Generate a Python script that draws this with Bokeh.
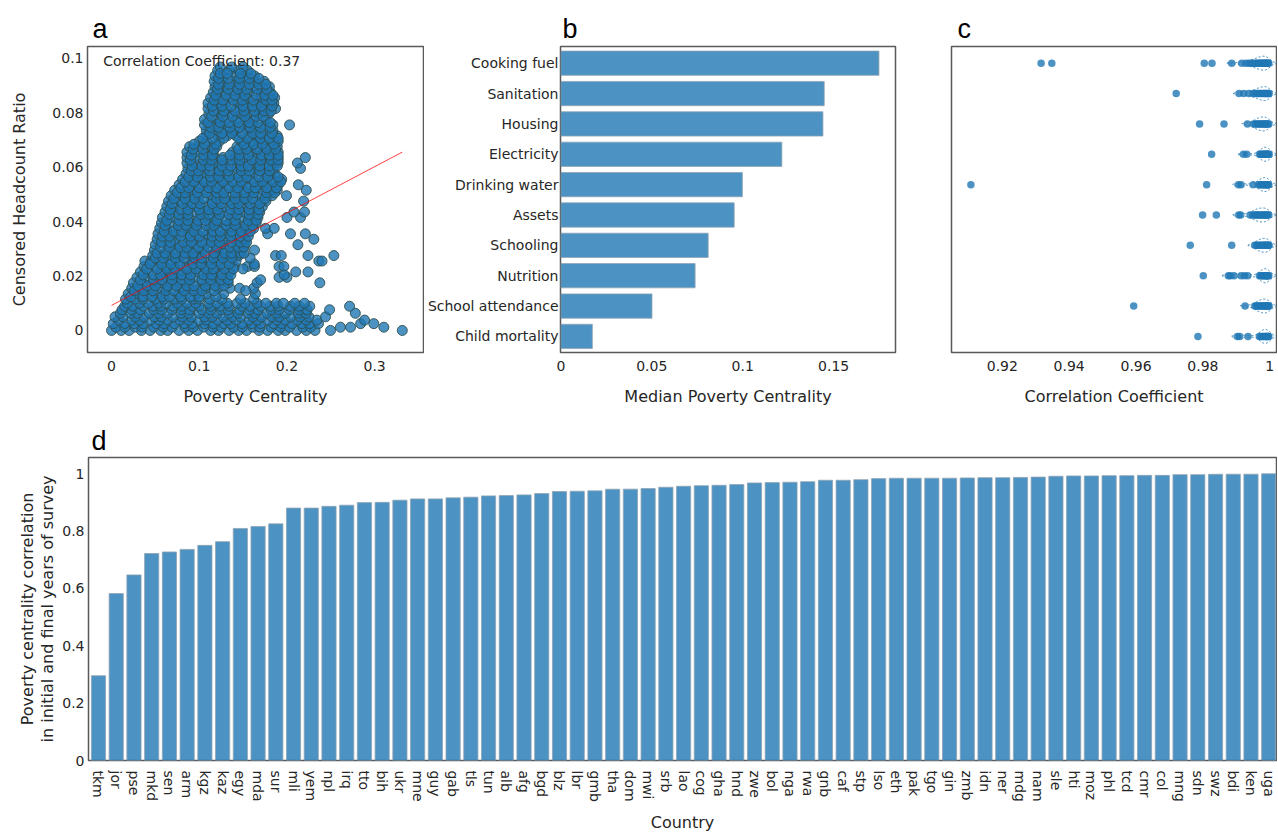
import math
import numpy as np
from bokeh.plotting import figure
from bokeh.layouts import row, column
from bokeh.models import Range1d, FixedTicker, CustomJSTickFormatter, Label
from bokeh.embed import file_html
from bokeh.resources import INLINE

# ---------------- data: panel a (poverty centrality vs censored headcount ratio)
# each entry: (censored headcount ratio, [poverty centrality of the points at that ratio])
scatter_rows = [
    (0.0000, [0.000, 0.011, 0.020, 0.034, 0.044, 0.056, 0.064, 0.077, 0.088, 0.098, 0.113, 0.122, 0.134, 0.145, 0.154,
              0.168, 0.178, 0.190, 0.198, 0.211, 0.222, 0.232, 0.2497, 0.3315]),
    (0.0012, [0.005, 0.015, 0.027, 0.035, 0.048, 0.059, 0.069, 0.084, 0.093, 0.105, 0.116, 0.125, 0.139, 0.149, 0.161,
              0.169, 0.182, 0.193, 0.203, 0.218, 0.227, 0.261, 0.2725, 0.3105]),
    (0.0025, [0.002, 0.015, 0.026, 0.036, 0.051, 0.060, 0.072, 0.083, 0.092, 0.106, 0.116, 0.128, 0.136, 0.149, 0.160,
              0.170, 0.185, 0.194, 0.206, 0.217, 0.226, 0.236, 0.284, 0.299]),
    (0.0038, [0.008, 0.023, 0.032, 0.044, 0.055, 0.064, 0.078, 0.088, 0.100, 0.108, 0.121, 0.132, 0.142, 0.157, 0.166,
              0.178, 0.189, 0.198, 0.212, 0.222, 0.234, 0.2885]),
    (0.0050, [0.004, 0.013, 0.027, 0.037, 0.049, 0.057, 0.070, 0.081, 0.091, 0.106, 0.115, 0.127, 0.138, 0.147, 0.161,
              0.171, 0.183, 0.191, 0.204, 0.215, 0.225, 0.244]),
    (0.0063, [0.010, 0.022, 0.030, 0.043, 0.054, 0.064, 0.079, 0.088, 0.100, 0.111, 0.120, 0.134, 0.144, 0.156, 0.164,
              0.177, 0.188, 0.198, 0.213, 0.222, 0.278]),
    (0.0076, [0.012, 0.023, 0.033, 0.048, 0.057, 0.069, 0.080, 0.089, 0.103, 0.113, 0.125, 0.133, 0.146, 0.157, 0.167,
              0.182, 0.191, 0.203, 0.214, 0.223, 0.2486]),
    (0.0089, [0.015, 0.024, 0.036, 0.047, 0.056, 0.070, 0.080, 0.092, 0.100, 0.113, 0.124, 0.134, 0.149, 0.158, 0.170,
              0.181, 0.190, 0.204, 0.214, 0.226, 0.2714]),
    (0.0100, [0.018, 0.032, 0.042, 0.054, 0.062, 0.075, 0.086, 0.096, 0.111, 0.120, 0.132, 0.143, 0.152, 0.166, 0.176,
              0.188, 0.196, 0.209, 0.220]),
    (0.0115, [0.016, 0.027, 0.036, 0.050, 0.060, 0.072, 0.080, 0.093, 0.100, 0.112, 0.126, 0.147, 0.162]),
    (0.0135, [0.019, 0.027, 0.040, 0.051, 0.061, 0.076, 0.085, 0.097, 0.108, 0.128, 0.164]),
    (0.0155, [0.023, 0.032, 0.044, 0.055, 0.064, 0.078, 0.088, 0.100, 0.108, 0.121, 0.135, 0.146, 0.162]),
    (0.0175, [0.025, 0.035, 0.047, 0.055, 0.068, 0.079, 0.089, 0.104, 0.113, 0.125, 0.133, 0.166, 0.2375]),
    (0.0195, [0.029, 0.039, 0.054, 0.063, 0.075, 0.086, 0.095, 0.109, 0.119, 0.131, 0.191, 0.200]),
    (0.0215, [0.033, 0.042, 0.056, 0.066, 0.078, 0.086, 0.099, 0.110, 0.120, 0.135, 0.210, 0.224]),
    (0.0235, [0.037, 0.050, 0.061, 0.071, 0.086, 0.095, 0.107, 0.118, 0.127, 0.140, 0.155, 0.163, 0.191, 0.1965]),
    (0.0255, [0.038, 0.045, 0.057, 0.068, 0.077, 0.091, 0.101, 0.113, 0.121, 0.134, 0.142, 0.2364, 0.240]),
    (0.0275, [0.047, 0.059, 0.067, 0.080, 0.091, 0.101, 0.116, 0.125, 0.137, 0.145, 0.187, 0.1935, 0.224, 0.2535]),
    (0.0295, [0.049, 0.064, 0.073, 0.085, 0.096, 0.105, 0.119, 0.129, 0.141, 0.149, 0.163]),
    (0.0315, [0.050, 0.064, 0.074, 0.086, 0.094, 0.107, 0.118, 0.128, 0.143, 0.152, 0.2125]),
    (0.0335, [0.052, 0.063, 0.073, 0.088, 0.097, 0.109, 0.120, 0.129, 0.143, 0.153, 0.2307]),
    (0.0355, [0.053, 0.064, 0.073, 0.087, 0.097, 0.109, 0.117, 0.130, 0.141, 0.151, 0.178, 0.204, 0.221]),
    (0.0375, [0.055, 0.063, 0.076, 0.087, 0.097, 0.112, 0.121, 0.133, 0.144, 0.153, 0.162, 0.1756, 0.1855]),
    (0.0395, [0.057, 0.066, 0.078, 0.089, 0.098, 0.112, 0.122, 0.134, 0.142, 0.155, 0.165]),
    (0.0415, [0.058, 0.068, 0.080, 0.088, 0.101, 0.112, 0.122, 0.137, 0.146, 0.158, 0.167, 0.200, 0.2155]),
    (0.0435, [0.061, 0.071, 0.086, 0.095, 0.107, 0.118, 0.127, 0.141, 0.151, 0.163, 0.169, 0.208, 0.220]),
    (0.0455, [0.063, 0.072, 0.086, 0.096, 0.108, 0.116, 0.129, 0.140, 0.150, 0.165, 0.172]),
    (0.0475, [0.065, 0.078, 0.089, 0.099, 0.114, 0.123, 0.135, 0.146, 0.155, 0.169, 0.176, 0.219]),
    (0.0495, [0.068, 0.080, 0.091, 0.100, 0.114, 0.124, 0.136, 0.144, 0.157, 0.168, 0.178, 0.183, 0.1995]),
    (0.0515, [0.072, 0.084, 0.092, 0.105, 0.116, 0.126, 0.141, 0.150, 0.162, 0.173, 0.182, 0.189, 0.222]),
    (0.0535, [0.077, 0.092, 0.101, 0.113, 0.124, 0.133, 0.147, 0.157, 0.169, 0.177, 0.190, 0.213]),
    (0.0555, [0.081, 0.095, 0.105, 0.117, 0.125, 0.138, 0.149, 0.159, 0.174, 0.183, 0.194]),
    (0.0575, [0.085, 0.096, 0.106, 0.121, 0.130, 0.142, 0.153, 0.162, 0.176, 0.186]),
    (0.0595, [0.087, 0.098, 0.107, 0.121, 0.131, 0.143, 0.151, 0.164, 0.175, 0.185, 0.2155]),
    (0.0615, [0.086, 0.094, 0.107, 0.118, 0.128, 0.143, 0.152, 0.164, 0.175, 0.184, 0.190, 0.212]),
    (0.0635, [0.086, 0.095, 0.107, 0.118, 0.127, 0.141, 0.151, 0.163, 0.171, 0.184, 0.190, 0.221]),
    (0.0655, [0.086, 0.096, 0.108, 0.116, 0.138, 0.149, 0.159, 0.174, 0.183, 0.190]),
    (0.0675, [0.089, 0.099, 0.114, 0.120, 0.143, 0.155, 0.166, 0.175, 0.189]),
    (0.0695, [0.100, 0.109, 0.123, 0.148, 0.160, 0.168, 0.181, 0.190]),
    (0.0715, [0.108, 0.121, 0.132, 0.142, 0.157, 0.166, 0.178, 0.189]),
    (0.0735, [0.108, 0.120, 0.131, 0.140, 0.154, 0.164, 0.176, 0.184]),
    (0.0755, [0.106, 0.118, 0.126, 0.139, 0.150, 0.160, 0.175, 0.184, 0.203]),
    (0.0775, [0.106, 0.121, 0.130, 0.142, 0.153, 0.162, 0.176]),
    (0.0795, [0.111, 0.125, 0.135, 0.147, 0.155, 0.168, 0.179]),
    (0.0815, [0.110, 0.121, 0.131, 0.146, 0.155, 0.167, 0.178, 0.187]),
    (0.0835, [0.110, 0.121, 0.130, 0.144, 0.154, 0.166, 0.174, 0.185]),
    (0.0855, [0.113, 0.121, 0.134, 0.145, 0.155, 0.170, 0.179, 0.186]),
    (0.0875, [0.116, 0.125, 0.137, 0.148, 0.157, 0.171, 0.181]),
    (0.0895, [0.118, 0.128, 0.140, 0.148, 0.161, 0.172, 0.180]),
    (0.0915, [0.117, 0.127, 0.142, 0.151, 0.163, 0.174]),
    (0.0935, [0.118, 0.127, 0.141, 0.151, 0.163]),
    (0.0955, [0.121, 0.134, 0.145, 0.155]),
    (0.0968, [0.124, 0.137, 0.150]),
]
# points lying between the rows above
scatter_rows_between = [
    (0.0124, [0.022, 0.036, 0.046, 0.058, 0.066, 0.079, 0.090, 0.100, 0.119]),
    (0.0146, [0.026, 0.037, 0.047, 0.062, 0.071, 0.083, 0.094, 0.103, 0.117, 0.153]),
    (0.0164, [0.030, 0.041, 0.050, 0.064, 0.074, 0.086, 0.094, 0.107, 0.118, 0.128]),
    (0.0186, [0.033, 0.048, 0.057, 0.069, 0.080, 0.089, 0.103, 0.113, 0.125, 0.133, 0.170]),
    (0.0204, [0.036, 0.048, 0.056, 0.069, 0.080, 0.090, 0.105, 0.114, 0.126, 0.136, 0.197]),
    (0.0226, [0.040, 0.052, 0.063, 0.072, 0.086, 0.096, 0.108, 0.116, 0.129, 0.139, 0.150]),
    (0.0244, [0.044, 0.057, 0.068, 0.078, 0.093, 0.102, 0.114, 0.125, 0.134, 0.1627]),
    (0.0266, [0.050, 0.059, 0.073, 0.083, 0.095, 0.103, 0.116, 0.127, 0.137, 0.158]),
    (0.0284, [0.052, 0.061, 0.073, 0.084, 0.093, 0.107, 0.117, 0.129, 0.137, 0.147, 0.151]),
    (0.0306, [0.056, 0.066, 0.078, 0.086, 0.099, 0.110, 0.120, 0.135, 0.144, 0.151]),
    (0.0324, [0.057, 0.067, 0.082, 0.091, 0.103, 0.114, 0.123, 0.137, 0.147, 0.154]),
    (0.0346, [0.058, 0.066, 0.079, 0.090, 0.100, 0.115, 0.124, 0.136, 0.147, 0.156]),
    (0.0364, [0.060, 0.071, 0.080, 0.094, 0.104, 0.116, 0.124, 0.137, 0.148, 0.158]),
    (0.0386, [0.061, 0.076, 0.085, 0.097, 0.108, 0.117, 0.131, 0.141, 0.153, 0.161]),
    (0.0404, [0.063, 0.077, 0.087, 0.099, 0.107, 0.120, 0.131, 0.141, 0.156, 0.165]),
    (0.0426, [0.066, 0.077, 0.087, 0.102, 0.111, 0.123, 0.134, 0.143, 0.157, 0.167]),
    (0.0444, [0.067, 0.079, 0.087, 0.100, 0.111, 0.121, 0.136, 0.145, 0.157, 0.168]),
    (0.0466, [0.069, 0.081, 0.092, 0.101, 0.115, 0.125, 0.137, 0.145, 0.158, 0.169]),
    (0.0484, [0.071, 0.084, 0.095, 0.105, 0.120, 0.129, 0.141, 0.152, 0.161, 0.175]),
    (0.0506, [0.075, 0.084, 0.098, 0.108, 0.120, 0.128, 0.141, 0.152, 0.162, 0.177, 0.186]),
    (0.0524, [0.079, 0.088, 0.100, 0.111, 0.120, 0.134, 0.144, 0.156, 0.164, 0.177, 0.188]),
    (0.0546, [0.084, 0.094, 0.106, 0.114, 0.127, 0.138, 0.148, 0.163, 0.172, 0.184, 0.193]),
    (0.0564, [0.088, 0.098, 0.113, 0.122, 0.134, 0.145, 0.154, 0.168, 0.178, 0.190]),
    (0.0586, [0.091, 0.099, 0.112, 0.123, 0.133, 0.148, 0.157, 0.169, 0.180]),
    (0.0604, [0.092, 0.103, 0.112, 0.126, 0.136, 0.148, 0.156, 0.169, 0.180, 0.189]),
    (0.0626, [0.090, 0.105, 0.114, 0.126, 0.137, 0.146, 0.160, 0.170, 0.182, 0.190]),
    (0.0644, [0.091, 0.105, 0.115, 0.135, 0.146, 0.156, 0.171, 0.180, 0.190]),
    (0.0666, [0.093, 0.104, 0.117, 0.145, 0.154, 0.166, 0.177, 0.187]),
    (0.0684, [0.094, 0.106, 0.119, 0.151, 0.162, 0.172, 0.185]),
    (0.0706, [0.104, 0.115, 0.128, 0.145, 0.155, 0.170, 0.180, 0.190]),
    (0.0724, [0.112, 0.126, 0.137, 0.149, 0.161, 0.170, 0.183]),
    (0.0746, [0.113, 0.122, 0.135, 0.146, 0.158, 0.170, 0.181]),
    (0.0764, [0.110, 0.124, 0.134, 0.145, 0.157, 0.167, 0.181]),
    (0.0786, [0.114, 0.127, 0.138, 0.152, 0.165, 0.173]),
    (0.0806, [0.116, 0.128, 0.141, 0.151, 0.163, 0.174, 0.182]),
    (0.0824, [0.115, 0.126, 0.136, 0.150, 0.161, 0.171, 0.183]),
    (0.0846, [0.117, 0.127, 0.139, 0.149, 0.162, 0.176, 0.183]),
    (0.0864, [0.119, 0.131, 0.141, 0.152, 0.165, 0.175, 0.184]),
    (0.0886, [0.121, 0.133, 0.144, 0.154, 0.166, 0.177]),
    (0.0904, [0.122, 0.134, 0.146, 0.157, 0.168, 0.176]),
    (0.0926, [0.122, 0.133, 0.146, 0.157, 0.168]),
    (0.0944, [0.124, 0.132, 0.147, 0.159]),
]
fit_x = [0.0, 0.3315]
fit_y = [0.0092, 0.0655]
corr_text = "Correlation Coefficient: 0.37"
a_xticks = [0, 0.1, 0.2, 0.3]
a_yticks = [0, 0.02, 0.04, 0.06, 0.08, 0.1]

# ---------------- data: panel b
dimensions = ["Cooking fuel", "Sanitation", "Housing", "Electricity", "Drinking water",
              "Assets", "Schooling", "Nutrition", "School attendance", "Child mortality"]
median_centrality = [0.1749, 0.1448, 0.1441, 0.1215, 0.0998, 0.0953, 0.0810, 0.0738, 0.0501, 0.0173]
b_xticks = [0, 0.05, 0.1, 0.15]

# ---------------- data: panel c (correlation coefficients per dimension)
corr_cooking_fuel = [0.9316, 0.9348, 0.9804, 0.9827, 0.9886, 0.9916, 0.9928, 0.9937, 0.9944, 0.9950, 0.9956, 0.9960,
                     0.9964, 0.9968, 0.9971, 0.9974, 0.9977, 0.9980, 0.9983, 0.9986, 0.9989, 0.9991, 0.9993, 0.9995, 0.9997]
corr_sanitation = [0.9720, 0.9908, 0.9922, 0.9937, 0.9950, 0.9956, 0.9961, 0.9966, 0.9970, 0.9974, 0.9978, 0.9982,
                   0.9985, 0.9988, 0.9991, 0.9994, 0.9996, 0.9998]
corr_housing = [0.9790, 0.9863, 0.9933, 0.9952, 0.9957, 0.9962, 0.9966, 0.9970, 0.9974, 0.9978, 0.9982, 0.9985,
                0.9988, 0.9991, 0.9994, 0.9997]
corr_electricity = [0.9826, 0.9921, 0.9931, 0.9969, 0.9973, 0.9977, 0.9980, 0.9983, 0.9986, 0.9988, 0.9990, 0.9992,
                    0.9994, 0.9996, 0.9998]
corr_drinking_water = [0.9106, 0.9811, 0.9906, 0.9914, 0.9950, 0.9966, 0.9970, 0.9974, 0.9977, 0.9980, 0.9983,
                       0.9986, 0.9989, 0.9991, 0.9993, 0.9995, 0.9997]
corr_assets = [0.9799, 0.9840, 0.9907, 0.9913, 0.9941, 0.9949, 0.9954, 0.9958, 0.9962, 0.9966, 0.9970, 0.9974,
               0.9978, 0.9982, 0.9985, 0.9988, 0.9991, 0.9994, 0.9997]
corr_schooling = [0.9762, 0.9886, 0.9955, 0.9960, 0.9964, 0.9968, 0.9972, 0.9976, 0.9980, 0.9983, 0.9986, 0.9989,
                  0.9992, 0.9994, 0.9996, 0.9998]
corr_nutrition = [0.9801, 0.9876, 0.9882, 0.9893, 0.9914, 0.9924, 0.9934, 0.9969, 0.9973, 0.9977, 0.9980, 0.9983,
                  0.9986, 0.9989, 0.9991, 0.9993, 0.9995, 0.9997]
corr_school_attendance = [0.9593, 0.9926, 0.9955, 0.9959, 0.9963, 0.9967, 0.9971, 0.9975, 0.9978, 0.9981, 0.9984,
                          0.9987, 0.9990, 0.9992, 0.9994, 0.9996, 0.9998]
corr_child_mortality = [0.9785, 0.9903, 0.9910, 0.9935, 0.9969, 0.9973, 0.9977, 0.9980, 0.9983, 0.9986, 0.9989,
                        0.9991, 0.9993, 0.9995, 0.9997]
c_xticks = [0.92, 0.94, 0.96, 0.98, 1.0]

# ---------------- data: panel d
countries = ["tkm", "jor", "pse", "mkd", "sen", "arm", "kgz", "kaz", "egy", "mda", "sur", "mli", "yem", "npl",
             "irq", "tto", "bih", "ukr", "mne", "guy", "gab", "tls", "tun", "alb", "afg", "bgd", "blz", "lbr",
             "gmb", "tha", "dom", "mwi", "srb", "lao", "cog", "gha", "hnd", "zwe", "bol", "nga", "rwa", "gnb",
             "caf", "stp", "lso", "eth", "pak", "tgo", "gin", "zmb", "idn", "ner", "mdg", "nam", "sle", "hti",
             "moz", "phl", "tcd", "cmr", "col", "mng", "sdn", "swz", "bdi", "ken", "uga"]
country_corr = [0.2955, 0.582, 0.647, 0.7215, 0.727, 0.736, 0.750, 0.763, 0.809, 0.816, 0.825, 0.880, 0.880, 0.886,
                0.890, 0.899, 0.900, 0.9075, 0.912, 0.912, 0.9156, 0.918, 0.9225, 0.9235, 0.926, 0.9306, 0.9376,
                0.9387, 0.940, 0.9457, 0.946, 0.948, 0.9526, 0.956, 0.958, 0.9595, 0.962, 0.9676, 0.9688, 0.970,
                0.972, 0.977, 0.977, 0.979, 0.9827, 0.984, 0.984, 0.984, 0.984, 0.985, 0.986, 0.986, 0.987, 0.988,
                0.991, 0.992, 0.992, 0.993, 0.993, 0.994, 0.994, 0.9965, 0.9965, 0.9977, 0.998, 0.998, 0.9995]
d_yticks = [0, 0.2, 0.4, 0.6, 0.8, 1.0]

# ---------------- styling helpers
FONT = "DejaVu Sans"
LETTER_FONT = "Liberation Sans"
TXT = "#262626"
BLUE = "#1f77b4"
fmt = CustomJSTickFormatter(code="return String(tick);")


def style(p, letter, offset, standoff):
    p.outline_line_color = "#595959"
    p.outline_line_width = 1.5
    p.xgrid.visible = False
    p.ygrid.visible = False
    p.background_fill_color = "white"
    p.border_fill_color = "white"
    for ax in p.axis:
        ax.axis_line_color = None
        ax.major_tick_line_color = None
        ax.minor_tick_line_color = None
        ax.major_tick_out = 0
        ax.major_tick_in = 0
        ax.minor_tick_out = 0
        ax.minor_tick_in = 0
        ax.major_label_text_font = FONT
        ax.major_label_text_font_size = "14px"
        ax.major_label_text_color = TXT
        ax.axis_label_text_font = FONT
        ax.axis_label_text_font_size = "16px"
        ax.axis_label_text_font_style = "normal"
        ax.axis_label_text_color = TXT
    p.title.text = letter
    p.title.text_font = LETTER_FONT
    p.title.text_font_size = "27px"
    p.title.text_font_style = "normal"
    p.title.text_color = "black"
    p.title.align = "left"
    p.title.vertical_align = "bottom"
    p.title.offset = offset
    p.title.standoff = standoff


# ---------------- panel a
pa = figure(width=424, height=418, x_range=Range1d(-0.0274, 0.3557), y_range=Range1d(-0.0081, 0.1043),
            toolbar_location=None, output_backend="svg",
            min_border_left=87, min_border_right=1, min_border_top=46, min_border_bottom=66)
style(pa, "a", 5, 5)
all_rows = scatter_rows + scatter_rows_between
px = [x for yv, xs in all_rows for x in xs]
py = [yv for yv, xs in all_rows for x in xs]
pa.scatter(px, py, size=10, fill_color=BLUE, fill_alpha=0.8, line_color="#2f4f4f", line_width=1, line_alpha=0.9)
pa.line(fit_x, fit_y, line_color="red", line_width=1, line_alpha=0.75)
pa.xaxis.ticker = FixedTicker(ticks=a_xticks)
pa.yaxis.ticker = FixedTicker(ticks=a_yticks)
pa.xaxis.formatter = fmt
pa.yaxis.formatter = fmt
pa.xaxis.axis_label = "Poverty Centrality"
pa.yaxis.axis_label = "Censored Headcount Ratio"
pa.xaxis.major_label_standoff = 8
pa.yaxis.major_label_standoff = 4
pa.xaxis.axis_label_standoff = 13
pa.yaxis.axis_label_standoff = 20
pa.add_layout(Label(x=-0.0095, y=0.0988, text=corr_text, text_font=FONT, text_font_size="14px",
                    text_color=TXT, text_baseline="alphabetic"))

# ---------------- panel b
pb = figure(width=506, height=418, x_range=Range1d(-0.0002, 0.184), y_range=Range1d(9.53, -0.55),
            toolbar_location=None, output_backend="svg",
            min_border_left=134, min_border_right=35, min_border_top=46, min_border_bottom=66)
style(pb, "b", 2, 5)
pb.hbar(y=list(range(len(dimensions))), right=median_centrality, left=0, height=0.8,
        fill_color=BLUE, fill_alpha=0.8, line_color="#8fa3b3", line_width=0.8)
pb.yaxis.ticker = FixedTicker(ticks=list(range(len(dimensions))))
pb.yaxis.major_label_overrides = {i: d for i, d in enumerate(dimensions)}
pb.xaxis.ticker = FixedTicker(ticks=b_xticks)
pb.xaxis.formatter = fmt
pb.xaxis.axis_label = "Median Poverty Centrality"
pb.xaxis.major_label_standoff = 8
pb.yaxis.major_label_standoff = 2
pb.xaxis.axis_label_standoff = 13

# ---------------- panel c
pc = figure(width=347, height=418, x_range=Range1d(0.9048, 1.002), y_range=Range1d(9.53, -0.55),
            toolbar_location=None, output_backend="svg",
            min_border_left=21, min_border_right=1, min_border_top=46, min_border_bottom=66)
style(pc, "c", 6, 5)
pc.yaxis.visible = False
c_series = [corr_cooking_fuel, corr_sanitation, corr_housing, corr_electricity, corr_drinking_water,
            corr_assets, corr_schooling, corr_nutrition, corr_school_attendance, corr_child_mortality]
bw = 0.0012
vx, vy = [], []
for i, vals in enumerate(c_series):
    v = np.array(vals)
    grid = np.linspace(v.min(), v.max() + 3 * bw, 400)
    dens = np.exp(-0.5 * ((grid[:, None] - v[None, :]) / bw) ** 2).sum(axis=1)
    w = 0.23 * dens / dens.max()
    k = int(np.argmax(w))
    lo = k
    while lo > 0 and w[lo - 1] > 0.012:
        lo -= 1
    g = grid[lo:]
    ww = w[lo:]
    vx.append(list(np.concatenate([g, g[::-1]])))
    vy.append(list(np.concatenate([i - ww, (i + ww)[::-1]])))
pc.patches(vx, vy, fill_alpha=0, line_color=BLUE, line_width=1, line_dash="2 2", line_alpha=0.9)
cx = [x for vals in c_series for x in vals]
cy = [i for i, vals in enumerate(c_series) for x in vals]
pc.scatter(cx, cy, size=7.5, fill_color=BLUE, fill_alpha=0.8, line_color=None)
pc.xaxis.ticker = FixedTicker(ticks=c_xticks)
pc.xaxis.formatter = fmt
pc.xaxis.axis_label = "Correlation Coefficient"
pc.xaxis.major_label_standoff = 8
pc.xaxis.axis_label_standoff = 13

# ---------------- panel d
n = len(countries)
pd_ = figure(width=1277, height=416, x_range=Range1d(-0.564, 66.44), y_range=Range1d(0, 1.0563),
             toolbar_location=None, output_backend="svg",
             min_border_left=88, min_border_right=1, min_border_top=39, min_border_bottom=71)
style(pd_, "d", 3, 3)
pd_.vbar(x=list(range(n)), top=country_corr, bottom=0, width=0.8,
         fill_color=BLUE, fill_alpha=0.8, line_color="#8fa3b3", line_width=0.8)
pd_.xaxis.ticker = FixedTicker(ticks=list(range(n)))
pd_.xaxis.major_label_overrides = {i: c for i, c in enumerate(countries)}
pd_.xaxis.major_label_orientation = -math.pi / 2
pd_.yaxis.ticker = FixedTicker(ticks=d_yticks)
pd_.yaxis.formatter = fmt
pd_.xaxis.axis_label = "Country"
pd_.yaxis.axis_label = "Poverty centrality correlation\nin initial and final years of survey"
pd_.yaxis.axis_label_text_line_height = 1.05
pd_.xaxis.major_label_standoff = 10
pd_.yaxis.major_label_standoff = 4
pd_.xaxis.axis_label_standoff = 8
pd_.yaxis.axis_label_standoff = 2

layout = column(row(pa, pb, pc), pd_)
open("out.html", "w").write(file_html(layout, INLINE))
